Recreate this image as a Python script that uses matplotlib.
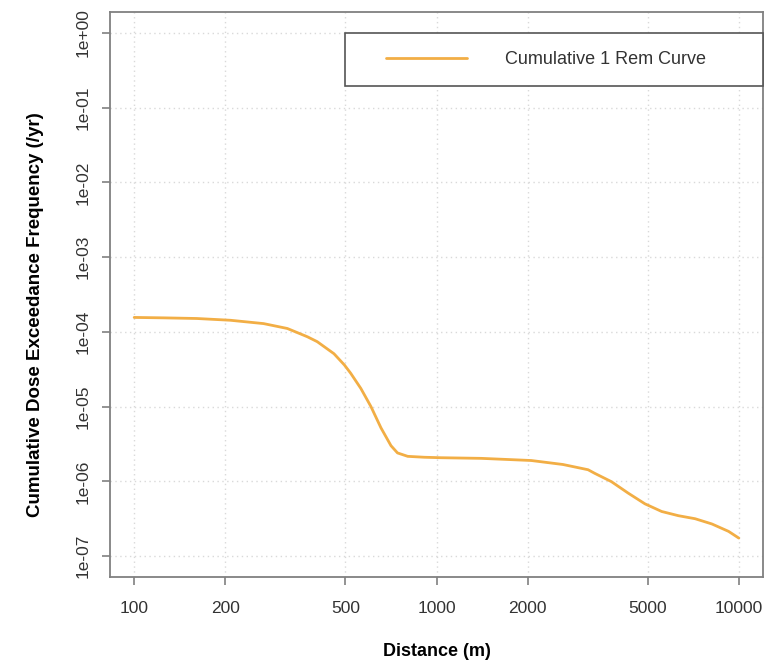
import matplotlib
matplotlib.use("Agg")
import matplotlib.pyplot as plt
from matplotlib.patches import Rectangle
from matplotlib.ticker import FixedLocator, NullLocator

plt.rcParams['font.family'] = ['Liberation Sans', 'DejaVu Sans']

# values (distance in m, frequency per year)
distance = [100, 125, 161, 208, 268, 321, 374, 403, 458, 496, 520, 562, 607,
            655, 707, 743, 803, 912, 1035, 1406, 2057, 2620, 3172, 3337, 3790,
            4307, 4892, 5557, 6312, 7170, 8145, 9250, 10000]
frequency = [1.56e-4, 1.54e-4, 1.51e-4, 1.43e-4, 1.29e-4, 1.11e-4, 8.6e-5, 7.4e-5,
             5.1e-5, 3.6e-5, 2.8e-5, 1.75e-5, 1.0e-5,
             5.2e-6, 3.0e-6, 2.4e-6, 2.16e-6, 2.1e-6, 2.07e-6, 2.03e-6, 1.9e-6,
             1.68e-6, 1.43e-6, 1.28e-6, 9.9e-7,
             6.95e-7, 5.0e-7, 3.95e-7, 3.47e-7, 3.16e-7, 2.69e-7, 2.14e-7, 1.74e-7]

x_ticks = [100, 200, 500, 1000, 2000, 5000, 10000]
y_ticks = [1e0, 1e-1, 1e-2, 1e-3, 1e-4, 1e-5, 1e-6, 1e-7]
y_labels = ["1e+00", "1e-01", "1e-02", "1e-03", "1e-04", "1e-05", "1e-06", "1e-07"]

line_color = '#F2AE45'
frame_color = '#808080'
text_color = '#333333'

fig = plt.figure(figsize=(7.67, 6.6), dpi=100)
ax = fig.add_axes([110 / 767, 1 - 577 / 660, 653 / 767, 565 / 660])

ax.plot(distance, frequency, color=line_color, lw=2.0, solid_capstyle='round',
        solid_joinstyle='round', label="Cumulative 1 Rem Curve", zorder=3)

ax.set_xscale('log')
ax.set_yscale('log')
ax.set_xlim(100 / 10 ** 0.08, 10000 * 10 ** 0.08)
ax.set_ylim(10 ** -7.28, 10 ** 0.28)

ax.xaxis.set_major_locator(FixedLocator(x_ticks))
ax.xaxis.set_minor_locator(NullLocator())
ax.set_xticklabels([str(t) for t in x_ticks])
ax.yaxis.set_major_locator(FixedLocator(y_ticks))
ax.yaxis.set_minor_locator(NullLocator())
ax.set_yticklabels(y_labels, rotation=90, va='center')

ax.tick_params(axis='both', length=6, width=1.2, color=frame_color,
               labelsize=12.5, labelcolor=text_color)
ax.tick_params(axis='x', pad=11)
ax.tick_params(axis='y', pad=8)

ax.grid(True, color='#d9d9d9', linestyle=(0, (1, 2.5)), lw=1.0, zorder=0)

for s in ax.spines.values():
    s.set_color(frame_color)
    s.set_linewidth(1.3)

ax.set_xlabel("Distance (m)", fontsize=13, fontweight='bold', labelpad=20)
ax.set_ylabel("Cumulative Dose Exceedance Frequency (/yr)", fontsize=13.5,
              fontweight='bold')
ax.yaxis.set_label_coords(-0.101, 0.465)

# legend box like R's legend
ax.add_patch(Rectangle((0.36, 0.869), 0.64, 0.094, transform=ax.transAxes,
                       facecolor='white', edgecolor='#555555', lw=1.2, zorder=4,
                       clip_on=False))
leg = ax.legend(loc='center left', bbox_to_anchor=(0.423, 0.916), frameon=False,
                fontsize=13, handlelength=4.5, handletextpad=2.1,
                borderpad=0, borderaxespad=0)
leg.set_zorder(5)
for t in leg.get_texts():
    t.set_color(text_color)

fig.savefig("out.png", dpi=100)
